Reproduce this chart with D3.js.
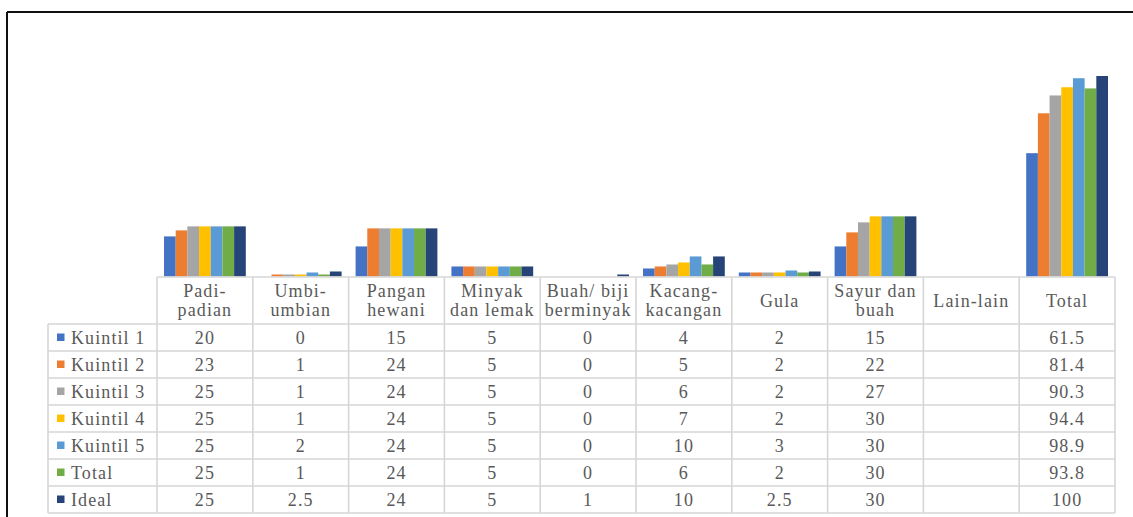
<!DOCTYPE html>
<html>
<head>
<meta charset="utf-8">
<script src="https://cdn.jsdelivr.net/npm/d3@7"></script>
<style>
  html, body { margin: 0; padding: 0; background: #fff; }
  svg { display: block; }
</style>
</head>
<body>
<svg id="chart" width="1133" height="517"></svg>
<script>
// ---- data ----
const categories = ["Padi-padian", "Umbi-umbian", "Pangan hewani", "Minyak dan lemak", "Buah/ biji berminyak", "Kacang-kacangan", "Gula", "Sayur dan buah", "Lain-lain", "Total"];
const categoryLines = [["Padi-", "padian"], ["Umbi-", "umbian"], ["Pangan", "hewani"], ["Minyak", "dan lemak"], ["Buah/ biji", "berminyak"], ["Kacang-", "kacangan"], ["Gula"], ["Sayur dan", "buah"], ["Lain-lain"], ["Total"]];
const seriesNames = ["Kuintil 1", "Kuintil 2", "Kuintil 3", "Kuintil 4", "Kuintil 5", "Total", "Ideal"];
const seriesColors = ["#4472C4", "#ED7D31", "#A5A5A5", "#FFC000", "#5B9BD5", "#70AD47", "#264478"];
const kuintil1 = [20, 0, 15, 5, 0, 4, 2, 15, null, 61.5];
const kuintil2 = [23, 1, 24, 5, 0, 5, 2, 22, null, 81.4];
const kuintil3 = [25, 1, 24, 5, 0, 6, 2, 27, null, 90.3];
const kuintil4 = [25, 1, 24, 5, 0, 7, 2, 30, null, 94.4];
const kuintil5 = [25, 2, 24, 5, 0, 10, 3, 30, null, 98.9];
const totalSeries = [25, 1, 24, 5, 0, 6, 2, 30, null, 93.8];
const ideal = [25, 2.5, 24, 5, 1, 10, 2.5, 30, null, 100];
const seriesValues = [kuintil1, kuintil2, kuintil3, kuintil4, kuintil5, totalSeries, ideal];
const yDomain = [0, 100];

// ---- layout ----
const svg = d3.select("#chart");
const tableLeft = 48, catLeft = 157, tableRight = 1115;
const baseY = 276.5, topY = 76;
const headerTop = 277, headerBottom = 324, rowH = 27;

const x = d3.scaleBand().domain(categories).range([catLeft, tableRight]).paddingInner(0).paddingOuter(0);
const xs = d3.scaleBand().domain(seriesNames).range([0, x.bandwidth()]).paddingOuter(0.6).paddingInner(0);
const y = d3.scaleLinear().domain(yDomain).range([baseY, topY]);

// outer frame
svg.append("line").attr("x1", 7).attr("x2", 1133).attr("y1", 12).attr("y2", 12).attr("stroke", "#111").attr("stroke-width", 2);
svg.append("line").attr("x1", 7).attr("x2", 7).attr("y1", 12).attr("y2", 517).attr("stroke", "#111").attr("stroke-width", 2);

// bars
const flat = [];
seriesValues.forEach((vals, si) => vals.forEach((v, ci) => {
  if (v !== null) flat.push({ s: seriesNames[si], c: categories[ci], v, color: seriesColors[si] });
}));
svg.append("g").selectAll("rect").data(flat).join("rect")
  .attr("x", d => x(d.c) + xs(d.s))
  .attr("width", xs.bandwidth())
  .attr("y", d => y(d.v))
  .attr("height", d => baseY - y(d.v))
  .attr("fill", d => d.color);

// table grid
const grid = svg.append("g").attr("stroke", "#d6d6d6").attr("stroke-width", 1.6).attr("fill", "none");
const rowsBottom = headerBottom + rowH * seriesNames.length;
grid.append("line").attr("x1", catLeft).attr("x2", tableRight).attr("y1", headerTop).attr("y2", headerTop);
d3.range(seriesNames.length + 1).forEach(i => {
  const yy = headerBottom + i * rowH;
  grid.append("line").attr("x1", tableLeft).attr("x2", tableRight).attr("y1", yy).attr("y2", yy);
});
grid.append("line").attr("x1", tableLeft).attr("x2", tableLeft).attr("y1", headerBottom).attr("y2", rowsBottom);
categories.forEach(c => {
  grid.append("line").attr("x1", x(c)).attr("x2", x(c)).attr("y1", headerTop).attr("y2", rowsBottom);
});
grid.append("line").attr("x1", tableRight).attr("x2", tableRight).attr("y1", headerTop).attr("y2", rowsBottom);

// text helper
function label(xx, yy, str, anchor) {
  return svg.append("text").attr("x", xx).attr("y", yy)
    .attr("font-family", "Liberation Serif").attr("font-size", 18)
    .attr("letter-spacing", 1.1).attr("fill", "#595959")
    .attr("text-anchor", anchor).text(str);
}

categories.forEach((c, ci) => {
  const lines = categoryLines[ci];
  const cx = x(c) + x.bandwidth() / 2;
  const baselines = lines.length === 2 ? [297, 316] : [307];
  lines.forEach((ln, li) => label(cx, baselines[li], ln, "middle"));
});

seriesNames.forEach((s, si) => {
  const rowTop = headerBottom + si * rowH;
  svg.append("rect").attr("x", 57).attr("y", rowTop + 9.5).attr("width", 7.5).attr("height", 7.5).attr("fill", seriesColors[si]);
  label(71, rowTop + 19.5, s, "start");
  seriesValues[si].forEach((v, ci) => {
    if (v === null) return;
    label(x(categories[ci]) + x.bandwidth() / 2, rowTop + 19.5, v, "middle");
  });
});
</script>
</body>
</html>
